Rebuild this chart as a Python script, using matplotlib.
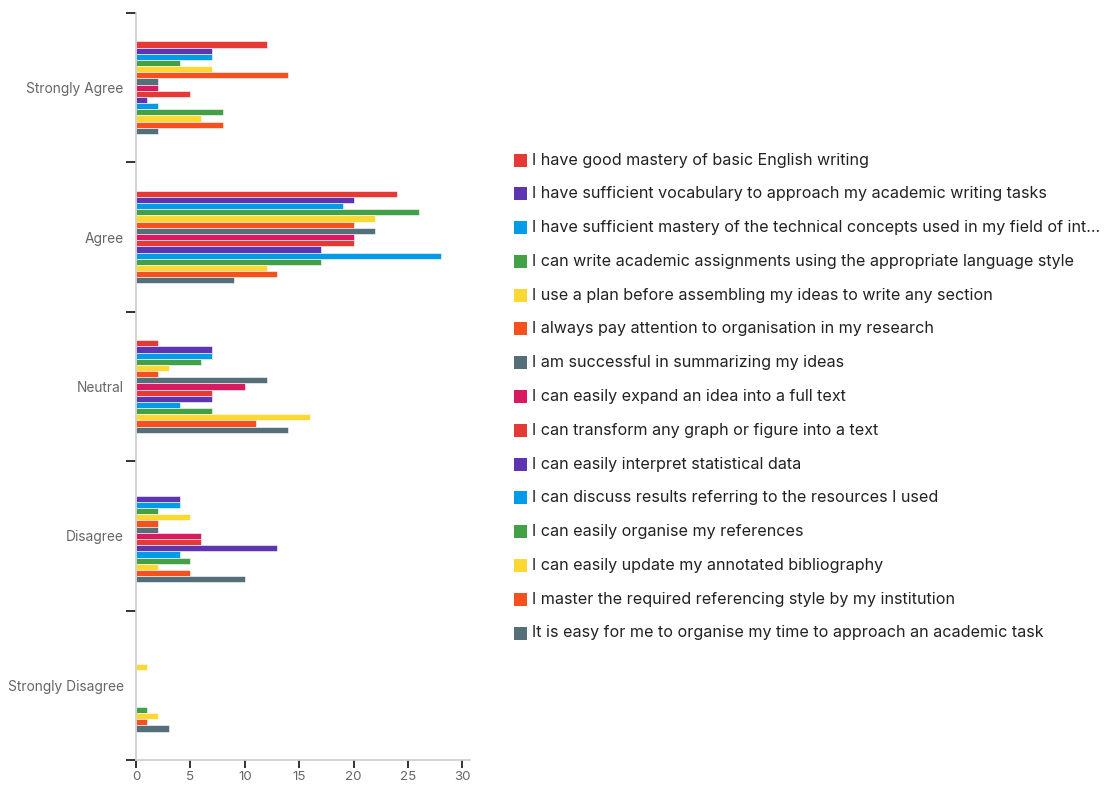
import matplotlib
matplotlib.use("Agg")
import matplotlib.pyplot as plt
from matplotlib.patches import Rectangle
import numpy as np

plt.rcParams['font.family'] = ['Inter', 'DejaVu Sans']

categories = ["Strongly Agree", "Agree", "Neutral", "Disagree", "Strongly Disagree"]

series_names = [
    "I have good mastery of basic English writing",
    "I have sufficient vocabulary to approach my academic writing tasks",
    "I have sufficient mastery of the technical concepts used in my field of int...",
    "I can write academic assignments using the appropriate language style",
    "I use a plan before assembling my ideas to write any section",
    "I always pay attention to organisation in my research",
    "I am successful in summarizing my ideas",
    "I can easily expand an idea into a full text",
    "I can transform any graph or figure into a text",
    "I can easily interpret statistical data",
    "I can discuss results referring to the resources I used",
    "I can easily organise my references",
    "I can easily update my annotated bibliography",
    "I master the required referencing style by my institution",
    "It is easy for me to organise my time to approach an academic task",
]

# values per series: [Strongly Agree, Agree, Neutral, Disagree, Strongly Disagree]
s01 = [12, 24, 2, 0, 0]
s02 = [7, 20, 7, 4, 0]
s03 = [7, 19, 7, 4, 0]
s04 = [4, 26, 6, 2, 0]
s05 = [7, 22, 3, 5, 1]
s06 = [14, 20, 2, 2, 0]
s07 = [2, 22, 12, 2, 0]
s08 = [2, 20, 10, 6, 0]
s09 = [5, 20, 7, 6, 0]
s10 = [1, 17, 7, 13, 0]
s11 = [2, 28, 4, 4, 0]
s12 = [8, 17, 7, 5, 1]
s13 = [6, 12, 16, 2, 2]
s14 = [8, 13, 11, 5, 1]
s15 = [2, 9, 14, 10, 3]
series_values = [s01, s02, s03, s04, s05, s06, s07, s08, s09, s10, s11, s12, s13, s14, s15]

colors = ["#e53935", "#5e35b1", "#039be5", "#43a047", "#fdd835", "#f4511e", "#546e7a",
          "#d81b60", "#e53935", "#5e35b1", "#039be5", "#43a047", "#fdd835", "#f4511e", "#546e7a"]

W, H = 1106, 787
fig = plt.figure(figsize=(W / 100, H / 100), dpi=100)
ax = fig.add_axes([136 / W, 1 - 760 / H, (470 - 136) / W, (760 - 13) / H])

n = len(series_names)
group_h = 0.62
bh = group_h / n
ycat = np.arange(len(categories))
for i, (vals, c) in enumerate(zip(series_values, colors)):
    offs = -group_h / 2 + bh * (i + 0.5)
    ax.barh(ycat + offs, vals, height=bh, color=c, edgecolor='white', linewidth=0.4)

ax.set_ylim(len(categories) - 0.5, -0.5)
ax.set_xlim(0, 30.7)
ax.set_xticks([0, 5, 10, 15, 20, 25, 30])
ax.set_yticks(ycat)
ax.set_yticklabels(categories)
ax.set_yticks(np.arange(-0.5, len(categories) - 0.4, 1.0), minor=True)
ax.tick_params(axis='y', which='major', length=0, pad=9, labelsize=9.9, labelcolor='#666666')
ax.tick_params(axis='y', which='minor', length=7, width=1.3, color='#222222')
ax.tick_params(axis='x', length=6, width=1.3, color='#222222', labelsize=9.6,
               labelcolor='#666666', pad=2)
for s in ['top', 'right']:
    ax.spines[s].set_visible(False)
ax.spines['left'].set_color('#cccccc')
ax.spines['bottom'].set_color('#cccccc')
ax.spines['left'].set_linewidth(1.2)
ax.spines['bottom'].set_linewidth(1.2)

# legend
y0 = 160
dy = (633 - 160) / 14
for i, (name, c) in enumerate(zip(series_names, colors)):
    yc = y0 + i * dy
    fig.patches.append(Rectangle((514 / W, 1 - (yc + 6.5) / H), 13 / W, 13 / H,
                                 transform=fig.transFigure, facecolor=c, edgecolor='none'))
    fig.text(532 / W, 1 - yc / H, name, fontsize=11.6, color='#222222', va='center', ha='left')

fig.savefig("out.png", dpi=100)
